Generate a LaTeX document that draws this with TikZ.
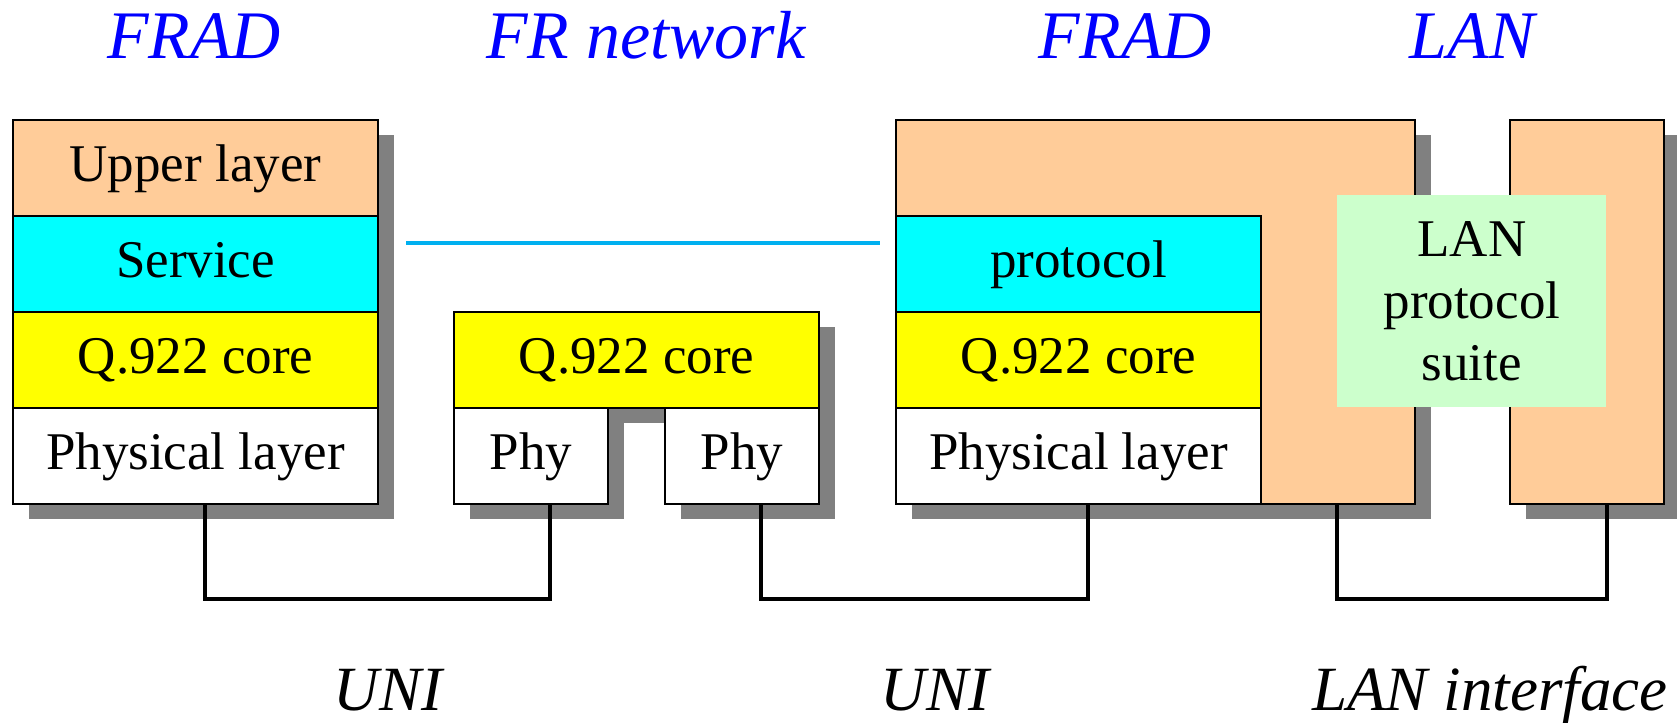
\documentclass[tikz,border=0pt]{standalone}
\usepackage{fontspec}
\setmainfont{Liberation Serif}
\usetikzlibrary{shadows}

\definecolor{upper}{HTML}{FFCC99}
\definecolor{service}{HTML}{00FFFF}
\definecolor{core}{HTML}{FFFF00}
\definecolor{lansuite}{HTML}{CCFFCC}
\definecolor{linkblue}{HTML}{00B0F0}
\definecolor{titleblue}{HTML}{0000FF}
\definecolor{shadowgray}{HTML}{808080}

\tikzset{
  layer/.style={draw, line width=1pt, inner sep=0pt, anchor=north west,
    minimum height=48pt, font=\fontsize{26.5}{31}\selectfont,
    text height=19pt, text depth=6pt},
  boxshadow/.style={drop shadow={shadow xshift=8pt, shadow yshift=-7.5pt,
    fill=shadowgray, opacity=1}},
  wire/.style={line width=2pt},
  heading/.style={font=\fontsize{34}{40}\selectfont\itshape, text=titleblue, anchor=base},
  iface/.style={font=\fontsize{31.5}{36}\selectfont\itshape, anchor=base},
}

\begin{document}
\begin{tikzpicture}[x=0.5pt, y=-0.5pt]

    % Page frame
    \useasboundingbox (0,0) rectangle (1677,723);

    % Titles over the stacks
    \node[heading] (tfrada) at (194,58) {FRAD};
    \node[heading] (tnet) at (646,58) {FR network};
    \node[heading] (tfradb) at (1125,58) {FRAD};
    \node[heading] (tlan) at (1472,58) {LAN};

    % Left FRAD stack
    \foreach \nm/\txt/\col [count=\i from 0] in {lup/Upper layer/upper, lsvc/Service/service, lcore/Q.922 core/core, lphy/Physical layer/white} {
        \node[layer, boxshadow, fill=\col, minimum width=182.5pt] (\nm) at (12,{119+96*\i}) {\txt};
    }

    % FR network switch
    \node[layer, boxshadow, fill=core, minimum width=182.5pt] (mcore) at (453,311) {Q.922 core};
    \node[layer, boxshadow, fill=white, minimum width=77pt] (mphya) at (453,407) {Phy};
    \node[layer, boxshadow, fill=white, minimum width=77pt] (mphyb) at (664,407) {Phy};

    % Right FRAD (upper block, then its stack)
    \node[layer, boxshadow, fill=upper, minimum width=259.5pt, minimum height=192pt] (rup) at (895,119) {};
    \node[layer, fill=service, minimum width=182.5pt] (rproto) at (895,215) {protocol};
    \node[layer, fill=core, minimum width=182.5pt] (rcore) at (895,311) {Q.922 core};
    \node[layer, fill=white, minimum width=182.5pt] (rphy) at (895,407) {Physical layer};

    % LAN side
    \node[layer, boxshadow, fill=upper, minimum width=77pt, minimum height=192pt] (lan) at (1509,119) {};
    \node[fill=lansuite, inner sep=0pt, anchor=north west, minimum width=134.5pt,
      minimum height=106pt, align=center, font=\fontsize{26.5}{31}\selectfont]
      (suite) at (1337,195) {LAN\\protocol\\suite};

    % Peer link between service layers
    \draw[linkblue, line width=2pt] ([xshift=13.5pt, yshift=10.5pt]lsvc.east) -- ([xshift=-7.5pt, yshift=10.5pt]rproto.west);

    % Interface wires
    \draw[wire] ([xshift=4.5pt]lphy.south) -- ++(0,94) -| ([xshift=9.5pt]mphya.south);
    \draw[wire] ([xshift=9.5pt]mphyb.south) -- ++(0,94) -| ([xshift=4.75pt]rphy.south);
    \draw[wire] (suite.west |- rup.south) -- ++(0,94) -| (suite.east |- lan.south);

    % Interface labels
    \node[iface] (uni1) at (388,710) {UNI};
    \node[iface] (uni2) at (935,710) {UNI};
    \node[iface] (lanif) at (1490,710) {LAN interface};

\end{tikzpicture}
\end{document}
